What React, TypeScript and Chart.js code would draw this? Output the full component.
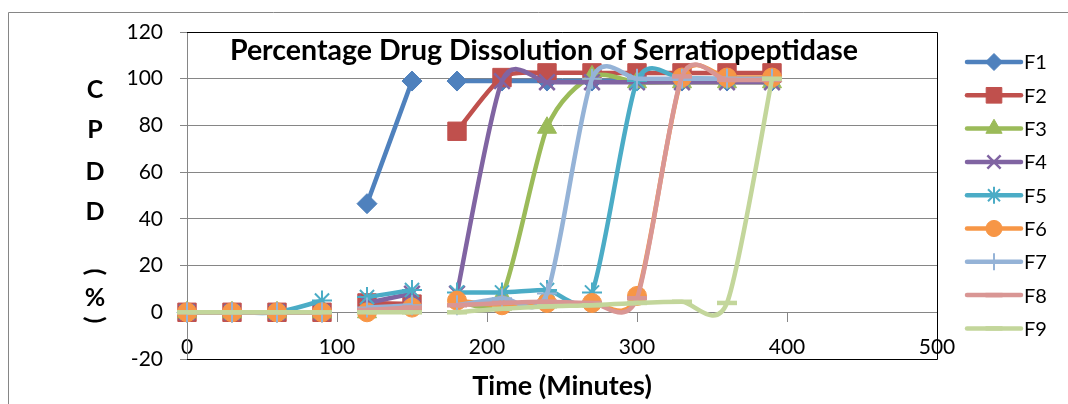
import React, { useEffect, useRef } from 'react';
import { Chart, registerables } from 'chart.js';
import { drawPoint } from 'chart.js/helpers';

Chart.register(...registerables);

// ---- data ----
const times = [0, 30, 60, 90, 120, 150, 180, 210, 240, 270, 300, 330, 360, 390];
const gapAfter = [90, 150]; // blank cells break every series here
const seriesNames = ['F1', 'F2', 'F3', 'F4', 'F5', 'F6', 'F7', 'F8', 'F9'];
const F1 = [0, 0, 0, 0, 46.5, 99, 99, 99, 99, 99, 99, 99, 99, 99];
const F2 = [0, 0, 0, 0, 4, 3.5, 77.5, 100.5, 102.5, 102.5, 102.5, 102.5, 102.5, 102.5];
const F3 = [0, 0, 0, 0, 0, 3, 5, 7, 79, 101, 98.5, 98.5, 98.5, 98.5];
const F4 = [0, 0, 0, 0, 4, 8, 8, 99, 98.5, 98.5, 98.5, 98.5, 98.5, 98.5];
const F5 = [0, 0, 0, 5, 6.5, 9.5, 8.5, 8.5, 9.5, 8.5, 99, 100, 100, 100];
const F6 = [0, 0, 0, 0, 0, 2, 5, 3, 4, 4, 7, 100.5, 100.5, 100.5];
const F7 = [0, 0, 0, 0, 2, 3, 3, 6, 8, 100, 100, 100, 100, 100];
const F8 = [0, 0, 0, 0, 1, 2, 3, 4, 4.5, 4, 6, 101, 99.5, 99.5];
const F9 = [0, 0, 0, 0, 0, 0, 0, 1.5, 2.5, 3, 4, 4.5, 4, 100];
const seriesValues = [F1, F2, F3, F4, F5, F6, F7, F8, F9];
const xMin = 0, xMax = 500, xStep = 100;
const yMin = -20, yMax = 120, yStep = 20;
const titleText = 'Percentage Drug Dissolution of Serratiopeptidase';
const xTitleText = 'Time (Minutes)';
const yTitleText = 'CPDD (%)';

// ---- styles ----
const colors = ['#4F81BD', '#C0504D', '#9BBB59', '#8064A2', '#4BACC6', '#F79646', '#95B3D7', '#D99694', '#C3D69B'];
const markers = ['rectRot', 'rect', 'triangle', 'crossRot', 'star', 'circle', 'cross', 'line', 'line'];
const markerRadius = [10, 13, 11, 11, 10, 9.5, 10, 10, 10];
const markerBorder = [1, 1, 1, 2.5, 2, 1, 2, 4.5, 4.5];
const FONT = 'Lato, "Noto Sans", sans-serif';
const GRID = '#868686';

function buildData(vals: number[]) {
  const pts: { x: number; y: number | null }[] = [];
  for (let i = 0; i < times.length; i++) {
    pts.push({ x: times[i], y: vals[i] });
    if (gapAfter.includes(times[i]) && i < times.length - 1) {
      pts.push({ x: (times[i] + times[i + 1]) / 2, y: null });
    }
  }
  return pts;
}

// Excel-like smoothing (Catmull-Rom style control points)
const smoothPlugin = {
  id: 'excelSmooth',
  beforeDatasetDraw(chart: any, args: any) {
    const meta = args.meta;
    const pts = meta.data;
    const n = pts.length;
    const k = 0.13;
    for (let i = 0; i < n; i++) {
      const p = pts[i];
      if (p.skip) continue;
      const prev = i > 0 && !pts[i - 1].skip ? pts[i - 1] : p;
      const next = i < n - 1 && !pts[i + 1].skip ? pts[i + 1] : p;
      const dx = (next.x - prev.x) * k;
      const dy = (next.y - prev.y) * k;
      p.cp1x = p.x - dx; p.cp1y = p.y - dy;
      p.cp2x = p.x + dx; p.cp2y = p.y + dy;
    }
    if (meta.dataset) meta.dataset._pointsUpdated = true;
  },
};

const decorPlugin = {
  id: 'decor',
  beforeDraw(chart: any) {
    const ctx = chart.ctx;
    ctx.save();
    ctx.fillStyle = '#fff';
    ctx.fillRect(0, 0, chart.width, chart.height);
    ctx.strokeStyle = GRID;
    ctx.lineWidth = 1;
    ctx.beginPath();
    ctx.moveTo(8.5, chart.height);
    ctx.lineTo(8.5, 12.5);
    ctx.lineTo(chart.width, 12.5);
    ctx.stroke();
    ctx.restore();
  },
  beforeDatasetsDraw(chart: any) {
    const ctx = chart.ctx;
    const a = chart.chartArea;
    ctx.save();
    ctx.strokeStyle = '#000';
    ctx.lineWidth = 1;
    ctx.beginPath();
    ctx.moveTo(a.left, Math.round(a.top) + 0.5);
    ctx.lineTo(Math.round(a.right) + 0.5, Math.round(a.top) + 0.5);
    ctx.lineTo(Math.round(a.right) + 0.5, Math.round(a.bottom) + 0.5);
    ctx.lineTo(a.left, Math.round(a.bottom) + 0.5);
    ctx.stroke();
    // chart title inside the plot
    ctx.fillStyle = '#000';
    ctx.font = 'bold 28.5px ' + FONT;
    ctx.textAlign = 'center';
    ctx.textBaseline = 'middle';
    ctx.fillText(titleText, 544, 51);
    ctx.restore();
  },
  afterDraw(chart: any) {
    const ctx = chart.ctx;
    ctx.save();
    // x axis title
    ctx.fillStyle = '#000';
    ctx.textAlign = 'center';
    ctx.textBaseline = 'middle';
    ctx.font = 'bold 27px ' + FONT;
    ctx.fillText(xTitleText, 562, 386);
    // stacked y axis title
    ctx.font = 'bold 25px ' + FONT;
    const yPos = [90, 130, 172, 212, 252, 272, 298, 320];
    const chars = yTitleText.split('');
    chars.forEach((c, i) => {
      if (c === ' ') return;
      ctx.save();
      ctx.translate(95, yPos[i]);
      if (c === '(' || c === ')') ctx.rotate(Math.PI / 2);
      ctx.fillText(c, 0, 0);
      ctx.restore();
    });
    // legend
    const lx0 = 967, lx1 = 1021, mx = 994;
    seriesNames.forEach((name, i) => {
      const y = 62 + i * 33.3;
      ctx.strokeStyle = colors[i];
      ctx.lineWidth = 4.5;
      ctx.lineCap = 'round';
      ctx.beginPath();
      ctx.moveTo(lx0, y);
      ctx.lineTo(lx1, y);
      ctx.stroke();
      ctx.lineCap = 'butt';
      ctx.fillStyle = colors[i];
      ctx.strokeStyle = colors[i];
      ctx.lineWidth = markerBorder[i];
      drawPoint(ctx, { pointStyle: markers[i], radius: markerRadius[i] * 0.85, borderWidth: markerBorder[i], rotation: 0 } as any, mx, y);
      ctx.fillStyle = '#000';
      ctx.font = '20px ' + FONT;
      ctx.textAlign = 'left';
      ctx.textBaseline = 'middle';
      ctx.fillText(name, 1024, y + 1);
    });
    ctx.restore();
  },
};

export default function App() {
  const ref = useRef<HTMLCanvasElement>(null);
  useEffect(() => {
    if (!ref.current) return;
    const datasets = seriesNames.map((name, i) => ({
      label: name,
      data: buildData(seriesValues[i]),
      borderColor: colors[i],
      backgroundColor: colors[i],
      borderWidth: 4.5,
      tension: 0.4,
      spanGaps: false,
      pointStyle: markers[i],
      pointRadius: markerRadius[i],
      pointBorderWidth: markerBorder[i],
      pointBackgroundColor: colors[i],
      pointBorderColor: colors[i],
      clip: false as any,
      order: 10 - i,
    }));
    const chart = new Chart(ref.current, {
      type: 'line',
      data: { datasets },
      options: {
        animation: false,
        responsive: false,
        events: [],
        layout: { padding: { left: 0, top: 32, right: 131, bottom: 45 } },
        plugins: { legend: { display: false }, title: { display: false }, tooltip: { enabled: false } },
        scales: {
          x: {
            type: 'linear',
            min: xMin,
            max: xMax,
            position: { y: 0 } as any,
            afterFit: (s: any) => { s.height = 0; },
            ticks: { stepSize: xStep, color: '#000', font: { family: FONT, size: 21 }, padding: 13, maxRotation: 0 },
            grid: { drawOnChartArea: false, drawTicks: true, tickLength: 9, color: GRID },
            border: { display: true, color: GRID, width: 1 },
          },
          y: {
            type: 'linear',
            min: yMin,
            max: yMax,
            afterFit: (s: any) => { s.width = 187; },
            ticks: { stepSize: yStep, color: '#000', font: { family: FONT, size: 21 }, padding: 17 },
            grid: { color: GRID, tickLength: 7 },
            border: { display: true, color: GRID, width: 1 },
          },
        },
      },
      plugins: [smoothPlugin, decorPlugin],
    } as any);
    return () => chart.destroy();
  }, []);
  return (
    <div style={{ position: 'absolute', left: 0, top: 0, width: 1068, height: 404 }}>
      <canvas ref={ref} width={1068} height={404} style={{ display: 'block' }} />
    </div>
  );
}
